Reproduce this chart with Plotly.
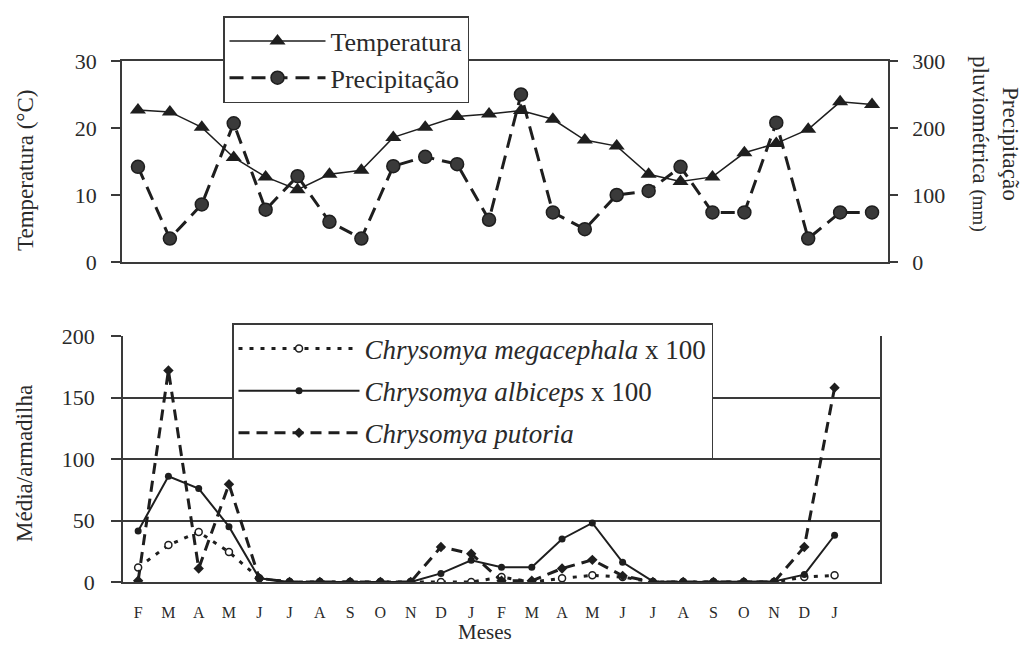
import plotly.graph_objects as go

months = ["F", "M", "A", "M", "J", "J", "A", "S", "O", "N", "D", "J",
          "F", "M", "A", "M", "J", "J", "A", "S", "O", "N", "D", "J"]
temperatura = [22.7, 22.4, 20.1, 15.6, 12.7, 10.8, 13.1, 13.7, 18.6, 20.1, 21.7, 22.1,
               22.6, 21.3, 18.2, 17.3, 13.1, 12.0, 12.7, 16.3, 17.7, 19.8, 23.9, 23.5]
precipitacao = [142, 35, 86, 207, 78, 128, 60, 35, 143, 157, 146, 63,
                250, 74, 49, 100, 106, 142, 74, 74, 208, 35, 74, 74]
megacephala = [11.7, 30, 40.7, 24.4, 3, 0, 0, 0, 0, 0, 0, 0,
               4, 0, 3, 5.4, 4, 0, 0, 0, 0, 0, 4, 5.4]
albiceps = [41.5, 86, 76, 45, 3, 0, 0, 0, 0, 0, 7, 17.6,
            12, 12, 35, 48, 16, 0.5, 0, 0, 0, 0.5, 6, 38]
putoria = [1, 172, 11, 79.5, 3, 0, 0, 0, 0, 0, 28.5, 23,
           1, 1, 11, 18, 5, 0, 0, 0, 0, 0, 28.5, 158]

x = list(range(len(months)))
FONT = "Liberation Serif"
INK = "#1e1e1e"
AX = "#3a3a3a"
TXT = "#2a2a2a"
W, H = 1023, 645

def px(v):
    return v / W

def py(v):
    return 1 - v / H

def f(size):
    return dict(family=FONT, size=size, color=TXT)

fig = go.Figure()

fig.add_trace(go.Scatter(
    x=x, y=temperatura, name="Temperatura", mode="lines+markers",
    line=dict(color=INK, width=1.5),
    marker=dict(symbol="triangle-up", size=14, color=INK),
    xaxis="x", yaxis="y", legend="legend", legendgroup="t"))
fig.add_trace(go.Scatter(
    x=x, y=precipitacao, name="Precipitação", mode="lines+markers",
    line=dict(color=INK, width=3, dash="14px,8px"),
    marker=dict(symbol="circle", size=13, color="#3a3a3a", line=dict(color=INK, width=1.5)),
    xaxis="x", yaxis="y2", legend="legend", legendgroup="p"))

fig.add_trace(go.Scatter(
    x=x, y=megacephala, name="<i>Chrysomya megacephala</i> x 100", mode="lines+markers",
    line=dict(color=INK, width=3, dash="4px,7px"),
    marker=dict(symbol="circle", size=7, color="white", line=dict(color=INK, width=1.5)),
    xaxis="x2", yaxis="y3", legend="legend2", legendgroup="m"))
fig.add_trace(go.Scatter(
    x=x, y=albiceps, name="<i>Chrysomya albiceps</i> x 100", mode="lines+markers",
    line=dict(color=INK, width=2),
    marker=dict(symbol="circle", size=7, color=INK),
    xaxis="x2", yaxis="y3", legend="legend2", legendgroup="a"))
fig.add_trace(go.Scatter(
    x=x, y=putoria, name="<i>Chrysomya putoria</i>", mode="lines+markers",
    line=dict(color=INK, width=3, dash="11px,7px"),
    marker=dict(symbol="diamond", size=8, color=INK),
    xaxis="x2", yaxis="y3", legend="legend2", legendgroup="c"))

axis_common = dict(zeroline=False, linecolor=AX, linewidth=1.5,
                   tickcolor=AX, tickwidth=1.5, automargin=False)

fig.update_layout(
    width=W, height=H,
    margin=dict(l=0, r=0, t=0, b=0),
    paper_bgcolor="white", plot_bgcolor="white",
    font=f(20),
    xaxis=dict(domain=[px(122), px(888)], range=[-0.5, 23.5], showline=True, mirror=True,
               showgrid=False, showticklabels=False, ticks="", anchor="y", **axis_common),
    yaxis=dict(domain=[py(262), py(61)], range=[0, 30], tickvals=[0, 10, 20, 30],
               showgrid=False, showline=True, ticks="outside", ticklen=9, ticklabelstandoff=10,
               tickfont=f(22), anchor="x", **axis_common),
    yaxis2=dict(range=[0, 300], tickvals=[0, 100, 200, 300], overlaying="y", side="right",
                showgrid=False, showline=True, ticks="outside", ticklen=8, ticklabelstandoff=10,
                tickfont=f(22), anchor="x", **axis_common),
    xaxis2=dict(domain=[px(123), px(880)], range=[-0.5, 24.5], showline=True, showgrid=False,
                tickvals=x, ticktext=months, ticks="", ticklabelstandoff=15,
                tickfont=f(16), anchor="y3", **axis_common),
    yaxis3=dict(domain=[py(582), py(336)], range=[0, 200], tickvals=[0, 50, 100, 150, 200],
                showline=True, mirror=True, ticks="outside", ticklen=10, ticklabelstandoff=12,
                tickfont=f(22), anchor="x2", showgrid=True, gridcolor=AX, gridwidth=1.5,
                **axis_common),
    legend=dict(x=px(223), y=py(16), xanchor="left", yanchor="top",
                bgcolor="white", bordercolor=AX, borderwidth=1.5,
                font=f(26), itemwidth=96, tracegroupgap=0),
    legend2=dict(x=px(232), y=py(323), xanchor="left", yanchor="top",
                 bgcolor="white", bordercolor=AX, borderwidth=1.5,
                 font=f(27), itemwidth=121, tracegroupgap=4),
    annotations=[
        dict(text="Temperatura (°C)", x=px(25), y=py(171), xref="paper", yref="paper",
             xanchor="center", yanchor="middle",
             textangle=-90, showarrow=False, font=f(23)),
        dict(text="Média/armadilha", x=px(24), y=py(464), xref="paper", yref="paper",
             xanchor="center", yanchor="middle",
             textangle=-90, showarrow=False, font=f(23)),
        dict(text="Precipitação<br>pluviométrica <span style='font-size:19px'>(mm)</span>",
             x=px(996), y=py(144), xref="paper", yref="paper",
             xanchor="center", yanchor="middle",
             textangle=90, showarrow=False, font=f(23)),
        dict(text="Meses", x=px(485), y=py(632), xref="paper", yref="paper",
             xanchor="center", yanchor="middle",
             showarrow=False, font=f(21)),
    ],
)

fig.write_html("out.html", config={"displayModeBar": False},
               post_script="document.body.style.margin='0px';document.body.style.padding='0px';")
